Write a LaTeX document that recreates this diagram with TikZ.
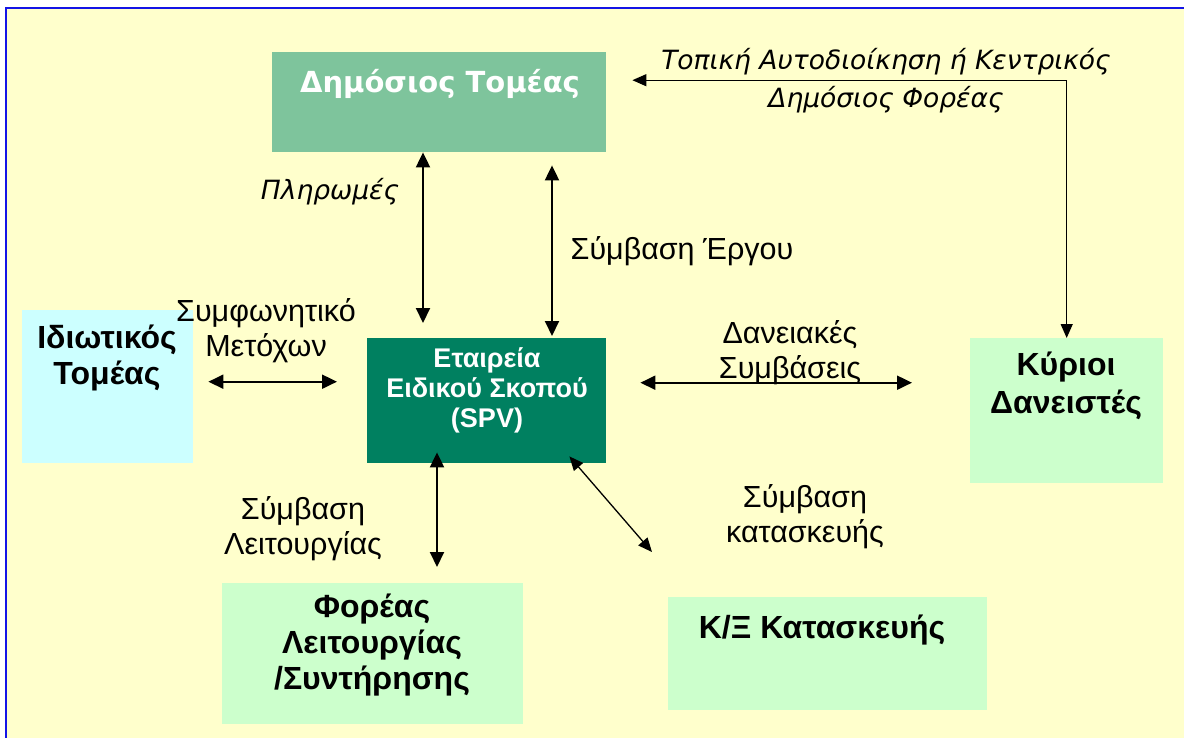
\documentclass[tikz,border=0pt]{standalone}
\usepackage{fontspec}
\setmainfont{Liberation Sans}
\newfontfamily\tahfont{DejaVu Sans}
\usetikzlibrary{positioning}
\usetikzlibrary{arrows.meta}

\definecolor{paper}{RGB}{255,255,204}
\definecolor{framec}{RGB}{20,20,230}
\definecolor{pubgreen}{RGB}{126,196,156}
\definecolor{spvgreen}{RGB}{0,128,96}
\definecolor{palegreen}{RGB}{204,255,204}
\definecolor{palecyan}{RGB}{204,255,255}

\begin{document}
\begin{tikzpicture}[x=1pt, y=-1pt]
    \tikzset{
    block/.style=
    {
        rectangle,
        inner sep=0pt,
        anchor=north west
    },
    txt/.style=
    {
        font=\fontsize{30.5}{35}\selectfont,
        align=center
    },
    boldtxt/.style=
    {
        font=\bfseries\fontsize{32}{36}\selectfont,
        align=center
    },
    slanttxt/.style=
    {
        font=\tahfont\itshape\fontsize{26.5}{38}\selectfont,
        align=center
    },
    link/.style=
    {
        line width=2pt,
        {Triangle[length=15pt,width=14pt]}-{Triangle[length=15pt,width=14pt]}
    },
    thinlink/.style=
    {
        line width=1.3pt,
        {Triangle[length=14pt,width=12pt]}-{Triangle[length=14pt,width=12pt]}
    }
}

  \useasboundingbox (0,0) rectangle (1184,737);
  \fill[white] (0,0) rectangle (1184,737);
  \draw[framec, line width=2pt, fill=paper] (6,8) rectangle (1200,760);

  \node[block, fill=pubgreen, minimum width=334pt, minimum height=100pt] (pub) at (272,52) {};
  \node[font=\tahfont\bfseries\fontsize{29}{34}\selectfont, text=white] (pubtxt) at (440,84) {Δημόσιος Τομέας};

  \node[block, fill=palecyan, minimum width=171pt, minimum height=153pt] (priv) at (22,310) {};
  \node[boldtxt] (privtxt) at (107,358) {Ιδιωτικός\\Τομέας};

  \node[block, fill=spvgreen, minimum width=239pt, minimum height=125pt] (spv) at (367,338) {};
  \node[boldtxt, text=white, font=\bfseries\fontsize{27}{30}\selectfont] (spvtxt) at (487,390) {Εταιρεία\\Ειδικού Σκοπού\\(SPV)};

  \node[block, fill=palegreen, minimum width=193pt, minimum height=145pt] (lend) at (970,338) {};
  \node[boldtxt, font=\bfseries\fontsize{32}{38}\selectfont] (lendtxt) at (1066,386) {Κύριοι\\Δανειστές};

  \node[block, fill=palegreen, minimum width=301pt, minimum height=141pt] (oper) at (222,583) {};
  \node[boldtxt] (opertxt) at (372,645) {Φορέας\\Λειτουργίας\\/Συντήρησης};

  \node[block, fill=palegreen, minimum width=319pt, minimum height=113pt] (cons) at (668,597) {};
  \node[boldtxt] (constxt) at (822,630) {Κ/Ξ Κατασκευής};

  \node[slanttxt] (paylbl) at (330,192) {Πληρωμές};
  \node[txt] (worklbl) at (682,251) {Σύμβαση Έργου};
  \node[txt] (sharelbl) at (266,331) {Συμφωνητικό\\Μετόχων};
  \node[txt] (loanlbl) at (790,353) {Δανειακές\\Συμβάσεις};
  \node[txt] (opslbl) at (303,529) {Σύμβαση\\Λειτουργίας};
  \node[txt] (buildlbl) at (805,517) {Σύμβαση\\κατασκευής};
  \node[slanttxt] (authlbl) at (886,81) {Τοπική Αυτοδιοίκηση ή Κεντρικός\\Δημόσιος Φορέας};

  \coordinate (buildend) at (652,552);

  \draw[link, shorten >=15pt] ([xshift=151pt]pub.south west) -- ([xshift=56pt]spv.north west);
  \draw[link, shorten <=13pt, shorten >=2pt] ([xshift=280pt]pub.south west) -- ([xshift=185pt]spv.north west);
  \draw[link, shorten <=15pt, shorten >=30pt] ([yshift=5pt]priv.east) -- ([yshift=5pt]priv.east -| spv.west);
  \draw[link, shorten <=34pt, shorten >=58pt] ([yshift=18pt]spv.east) -- ([yshift=18pt]spv.east -| lend.west);
  \draw[link, shorten <=-11pt, shorten >=16pt] ([xshift=70pt]spv.south west) -- ([xshift=215pt]oper.north west);
  \draw[thinlink] ([shift={(-37pt,7pt)}]spv.south east) -- (buildend);
  \draw[thinlink, shorten <=26pt] ([yshift=22pt]pub.east) -| (lend.north);

\end{tikzpicture}
\end{document}
